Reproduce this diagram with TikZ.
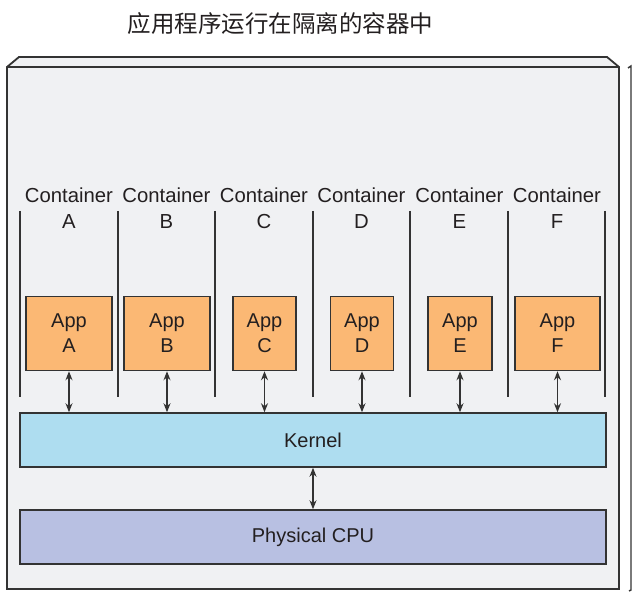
\documentclass[tikz,border=0pt]{standalone}
\usepackage{fontspec}
\setmainfont{Liberation Sans}
\newfontfamily\cjk{Noto Sans CJK SC}
\usetikzlibrary{arrows.meta}
\definecolor{txt}{HTML}{231F20}
\definecolor{ln}{HTML}{333333}
\definecolor{bgbox}{HTML}{F0F1F3}
\definecolor{appfill}{HTML}{FBB874}
\definecolor{kernfill}{HTML}{AEDDF0}
\definecolor{cpufill}{HTML}{B8C0E2}
\tikzset{
  appbox/.style={draw=ln, line width=1.5pt, fill=appfill, minimum height=74pt, text=txt, align=center, inner sep=0pt, font=\fontsize{20}{25}\selectfont},
  layer/.style={draw=ln, line width=1.5pt, minimum width=586pt, minimum height=54pt, text=txt, inner sep=0pt, font=\fontsize{20}{23}\selectfont},
  clabel/.style={text=txt, align=center, inner sep=0pt, font=\fontsize{20.3}{26}\selectfont},
  divider/.style={draw=ln, line width=1.4pt},
  link/.style={draw=ln, line width=1.4pt, {Stealth[length=9pt,width=7pt]}-{Stealth[length=9pt,width=7pt]}}
}
\begin{document}
\begin{tikzpicture}[x=1pt,y=-1pt]
\useasboundingbox (0,0) rectangle (640,604);
% title
\node[text=txt, inner sep=0pt, font=\cjk\fontsize{23.5}{26}\selectfont] (title) at (280.5,24) {应用程序运行在隔离的容器中};
% outer box
\filldraw[fill=bgbox, draw=ln, line width=1.8pt, line join=miter] (7,589) -- (7,67) -- (19,57) -- (607,57) -- (619,67) -- (619,589) -- cycle;
\draw[ln, line width=1.4pt] (7,67) -- (619,67);
% right side bracket line
\draw[ln, line width=1.4pt] (628,68) -- (631,66) -- (631,590) -- (629,591);
% dividers
\foreach \x in {20,118,215,313,410,508,605}{
  \draw[divider] (\x,211) -- (\x,397);
}
% container labels
\node[clabel] (cA) at (69,208) {Container\\A};
\node[clabel] (cB) at (166.5,208) {Container\\B};
\node[clabel] (cC) at (264,208) {Container\\C};
\node[clabel] (cD) at (361.5,208) {Container\\D};
\node[clabel] (cE) at (459.5,208) {Container\\E};
\node[clabel] (cF) at (557,208) {Container\\F};
% apps
\node[appbox, minimum width=86pt] (aA) at (69,333.5) {App\\A};
\node[appbox, minimum width=86pt] (aB) at (167,333.5) {App\\B};
\node[appbox, minimum width=63pt] (aC) at (264.5,333.5) {App\\C};
\node[appbox, minimum width=63pt] (aD) at (362,333.5) {App\\D};
\node[appbox, minimum width=64pt] (aE) at (460,333.5) {App\\E};
\node[appbox, minimum width=85pt] (aF) at (557.5,333.5) {App\\F};
% layers
\node[layer, fill=kernfill] (kernel) at (313,440) {Kernel};
\node[layer, fill=cpufill] (cpu) at (313,537) {Physical CPU};
% links
\foreach \a in {aA,aB,aC,aD,aE,aF}{
  \draw[link] (\a.south) -- (\a.south |- kernel.north);
}
\draw[link] (kernel.south) -- (cpu.north);
\end{tikzpicture}
\end{document}
